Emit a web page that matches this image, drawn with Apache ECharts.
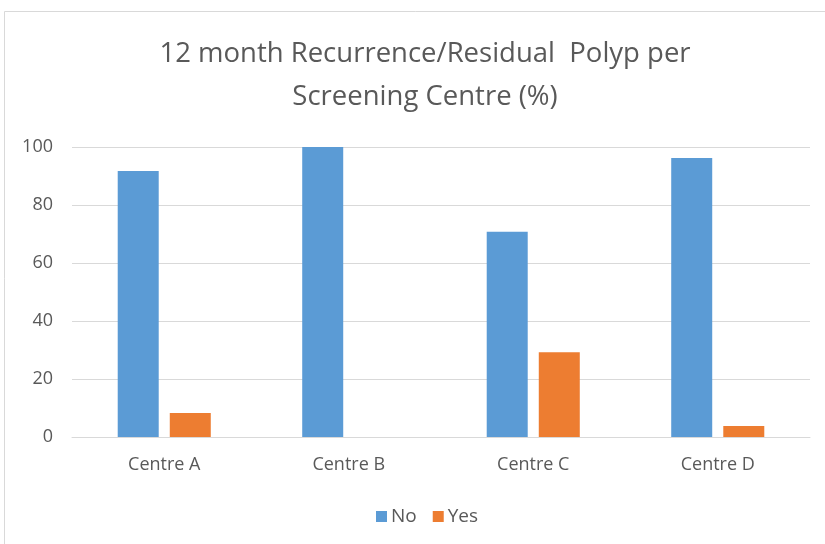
<!DOCTYPE html>
<html>
<head>
<meta charset="utf-8">
<script src="https://cdn.jsdelivr.net/npm/echarts@6/dist/echarts.min.js"></script>
<style>
  html, body { margin: 0; padding: 0; background: #fff; }
  #chart { width: 825px; height: 544px; }
</style>
</head>
<body>
<div id="chart"></div>
<script>
const titleText = '12 month Recurrence/Residual  Polyp per\nScreening Centre (%)';
const centres = ['Centre A', 'Centre B', 'Centre C', 'Centre D'];
const noValues = [91.7, 100, 70.8, 96.2];
const yesValues = [8.3, 0, 29.2, 3.8];
const seriesNames = ['No', 'Yes'];

const textColor = '#595959';
const font = 'Open Sans, Liberation Sans, sans-serif';

const chart = echarts.init(document.getElementById('chart'), null, { renderer: 'canvas' });
chart.setOption({
  backgroundColor: '#ffffff',
  animation: false,
  graphic: [{
    type: 'rect',
    shape: { x: 4.5, y: 11.5, width: 840, height: 560 },
    style: { fill: 'none', stroke: '#d9d9d9', lineWidth: 1 },
    silent: true
  }],
  title: {
    text: titleText,
    left: 420,
    top: 28,
    textAlign: 'center',
    textStyle: {
      fontFamily: font,
      fontSize: 27.5,
      fontWeight: 'normal',
      color: textColor,
      lineHeight: 43
    }
  },
  legend: {
    data: seriesNames,
    bottom: 13,
    left: 371,
    itemWidth: 11,
    itemHeight: 11,
    itemGap: 16,
    icon: 'rect',
    textStyle: { fontFamily: font, fontSize: 19, color: textColor, padding: [0, 0, 0, -1] }
  },
  grid: { left: 72, right: 15, top: 147, bottom: 107, containLabel: false },
  xAxis: {
    type: 'category',
    data: centres,
    axisLine: { show: true, lineStyle: { color: '#d9d9d9', width: 1 } },
    axisTick: { show: false },
    axisLabel: { fontFamily: font, fontSize: 18, color: textColor, margin: 19 }
  },
  yAxis: {
    type: 'value',
    min: 0,
    max: 100,
    interval: 20,
    axisLine: { show: false },
    axisTick: { show: false },
    splitLine: { lineStyle: { color: '#d9d9d9', width: 1 } },
    axisLabel: { fontFamily: font, fontSize: 18, color: textColor, margin: 19 }
  },
  series: [
    {
      name: seriesNames[0],
      type: 'bar',
      data: noValues,
      barWidth: 41,
      barGap: '27%',
      itemStyle: { color: '#5b9bd5' }
    },
    {
      name: seriesNames[1],
      type: 'bar',
      data: yesValues,
      barWidth: 41,
      barGap: '27%',
      itemStyle: { color: '#ed7d31' }
    }
  ]
});
</script>
</body>
</html>
